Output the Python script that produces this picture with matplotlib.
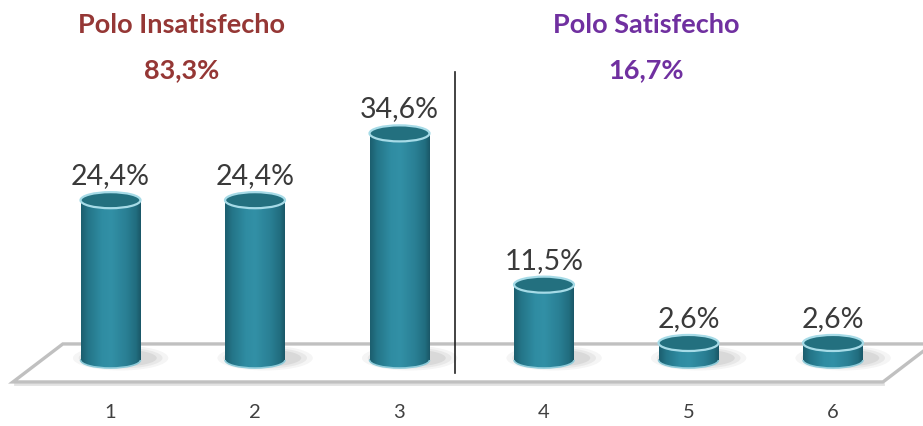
import matplotlib
matplotlib.use('Agg')
import matplotlib.pyplot as plt
import numpy as np
from matplotlib.patches import Ellipse, Polygon, Arc
from matplotlib.colors import LinearSegmentedColormap
from matplotlib import font_manager as fm

# ---------------- data ----------------
categories = ['1', '2', '3', '4', '5', '6']
values = [24.4, 24.4, 34.6, 11.5, 2.6, 2.6]
value_labels = ['24,4%', '24,4%', '34,6%', '11,5%', '2,6%', '2,6%']
group_names = ['Polo Insatisfecho', 'Polo Satisfecho']
group_totals = ['83,3%', '16,7%']
group_colors = ['#953735', '#7030A0']

# ---------------- fonts ----------------
names = {f.name for f in fm.fontManager.ttflist}
FONT = 'Lato' if 'Lato' in names else 'DejaVu Sans'
plt.rcParams['font.family'] = [FONT, 'DejaVu Sans']

W, H = 923, 426
fig = plt.figure(figsize=(W / 100, H / 100), dpi=100)
ax = fig.add_axes([0, 0, 1, 1])
ax.set_axis_off()

# pixel mapping
px_per_x = 144.5
px_per_y = 6.55
x0_px = 110.5
y0_px = 360
xlim = (-x0_px / px_per_x, (W - x0_px) / px_per_x)
ylim = (-(H - y0_px) / px_per_y, y0_px / px_per_y)

x = np.arange(len(categories))
bw = 0.415
eh = 2.45  # ellipse height in data units

# floor
fy_top, fy_bot = 2.45, -3.35
floor = Polygon([(-0.675, fy_bot), (5.346, fy_bot), (5.69, fy_top), (-0.33, fy_top)],
                closed=True, facecolor='white', edgecolor='#c0c0c0', lw=2.4, zorder=1)
ax.add_patch(floor)
ax.plot([-0.66, 5.346], [fy_bot - 0.35, fy_bot - 0.35], color='#e2e2e2', lw=2, zorder=0.9)

# shadows
for xi in x:
    for (w, h, a) in [(0.66, 3.8, 0.06), (0.58, 3.2, 0.08), (0.5, 2.6, 0.1)]:
        ax.add_patch(Ellipse((xi + 0.07, 0.3), w, h, facecolor='#555555', edgecolor='none',
                             alpha=a, zorder=2))

# separator line
ax.plot([2.384, 2.384], [-1.95, 43.9], color='#222222', lw=1.2, zorder=2.5)

# bars
cmap = LinearSegmentedColormap.from_list('cyl', [
    (0.0, '#1c5e6e'), (0.12, '#247588'), (0.35, '#2f8ca2'), (0.5, '#3290a6'),
    (0.75, '#2a8095'), (0.92, '#216d7f'), (1.0, '#1a5767')])
grad = np.linspace(0, 1, 256).reshape(1, -1)

bars = ax.bar(x, values, width=bw, bottom=0, color='#2b8499', edgecolor='none', zorder=3)
for b, v in zip(bars, values):
    bx, bwid = b.get_x(), b.get_width()
    cx = bx + bwid / 2
    bot = Ellipse((cx, 0), bwid, eh, facecolor='#2b8499', edgecolor='none', zorder=3)
    ax.add_patch(bot)
    im = ax.imshow(grad, cmap=cmap, extent=(bx, bx + bwid, -eh / 2, v), aspect='auto',
                   zorder=3.2, interpolation='bilinear')
    im.set_clip_path(b)
    im2 = ax.imshow(grad, cmap=cmap, extent=(bx, bx + bwid, -eh / 2, v), aspect='auto',
                    zorder=3.2, interpolation='bilinear')
    im2.set_clip_path(bot)
    ax.add_patch(Arc((cx, 0), bwid, eh, theta1=180, theta2=360, color='#8fcbd9', lw=1.2, zorder=3.4))
    ax.add_patch(Ellipse((cx, v), bwid, eh, facecolor='#23707f', edgecolor='#a6dbe7', lw=1.6, zorder=3.6))

# value labels
for xi, v, lab in zip(x, values, value_labels):
    ax.annotate(lab, (xi, v), xytext=(0, 11), textcoords='offset pixels', ha='center', va='bottom',
                fontsize=20.5, color='#3a3a3a', zorder=5)

# category labels
for xi, c in zip(x, categories):
    ax.text(xi, -8.05, c, ha='center', va='center', fontsize=14.5, color='#404040')

ax.set_xlim(*xlim)
ax.set_ylim(*ylim)

# group titles
gx = [182 / W, 646 / W]
for g, t, col, xx in zip(group_names, group_totals, group_colors, gx):
    fig.text(xx, 1 - 25 / H, g, ha='center', va='center', fontsize=19.5, fontweight='bold', color=col)
    fig.text(xx, 1 - 70 / H, t, ha='center', va='center', fontsize=19.5, fontweight='bold', color=col)

fig.savefig('out.png', dpi=100, facecolor='white')
